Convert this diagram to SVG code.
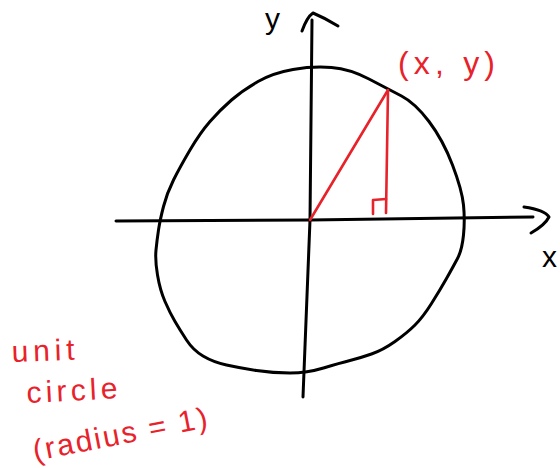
<svg xmlns="http://www.w3.org/2000/svg" width="560" height="468" viewBox="0 0 560 468">
  <style>
    .ink { fill: none; stroke: #000; stroke-width: 3; stroke-linecap: round; stroke-linejoin: round; }
    .red { fill: none; stroke: #e8222b; stroke-width: 2.6; stroke-linecap: round; stroke-linejoin: round; }
    .blk { fill: #000; font-family: "Liberation Sans", Arial, sans-serif; }
    .rt { fill: #e8222b; font-family: "Liberation Sans", Arial, sans-serif; }
  </style>
  <rect width="560" height="468" fill="#fff"/>
  <g id="circle">
    <path class="ink" d="M331.5,67.5 Q350,69 369,79 Q388,89 401.5,96 Q415,103 429,121.5 Q443,140 452.5,165 Q462,190 463.5,205 Q465,220 463.5,235 Q462,250 457.5,258.5 Q453,267 446.5,278.5 Q440,290 431.5,303.5 Q423,317 415,325 Q407,333 395,341.5 Q383,350 371.5,354 Q360,358 350,360.5 Q340,363 323.5,368 Q307,373 290,373 Q273,373 256.5,370.5 Q240,368 226.5,365 Q213,362 203,356 Q193,350 186.5,340 Q180,330 175,321.5 Q170,313 165,301.5 Q160,290 157.5,275 Q155,260 156,250 Q157,240 158.5,230 Q160,220 163.5,206.5 Q167,193 173.5,180 Q180,167 190,150 Q200,133 210,121.5 Q220,110 231.5,100 Q243,90 258,81.5 Q273,73 293,69.5 Q313,66 331.5,67.5 Z"/>
  </g>
  <g id="axes">
    <path class="ink" d="M116,221 L310,220 L533,217"/>
    <path class="ink" d="M524,207 Q545,210 549,217 Q545,225 531,233"/>
    <path class="ink" d="M312,20 L310,220 L303,397"/>
    <path class="ink" d="M302,31 Q307,17 313,13 Q325,18 338,26"/>
    <text id="label-y" class="blk" x="265" y="29" font-size="30">y</text>
    <text id="label-x" class="blk" x="542" y="267" font-size="30">x</text>
  </g>
  <g id="triangle">
    <path class="red" d="M310,220 L388,90"/>
    <path class="red" d="M388,90 L386,213"/>
    <path class="red" d="M373,214 L373,200 L386,199"/>
    <text id="label-point" class="rt" x="398" y="74" font-size="32" textLength="97" lengthAdjust="spacing">(x, y)</text>
  </g>
  <g id="caption">
    <text class="rt" x="12" y="362" font-size="30" textLength="63" lengthAdjust="spacing" transform="rotate(-2 12 362)">unit</text>
    <text class="rt" x="27" y="403" font-size="30" textLength="91" lengthAdjust="spacing" transform="rotate(-3 27 403)">circle</text>
    <text class="rt" x="35" y="461" font-size="30" textLength="177" lengthAdjust="spacing" transform="rotate(-11 35 461)">(radius = 1)</text>
  </g>
</svg>
